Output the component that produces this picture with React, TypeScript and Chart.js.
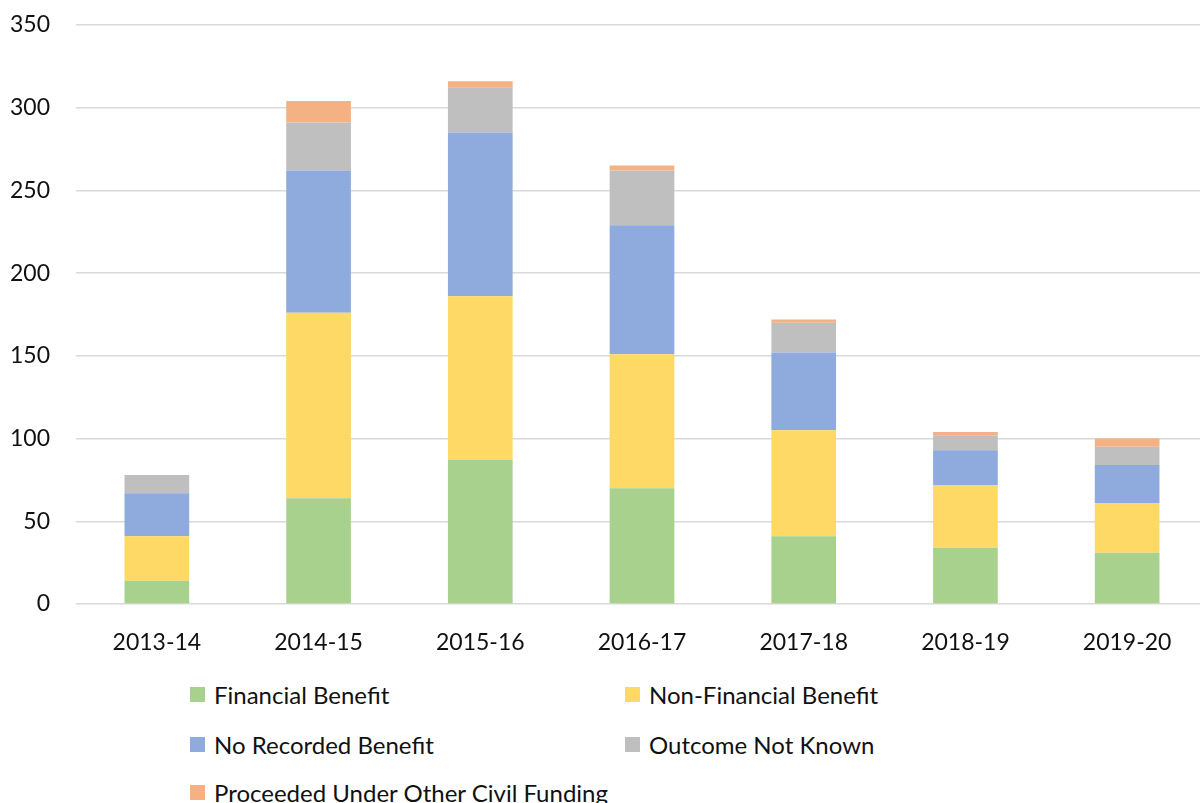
import React, { useEffect, useRef } from "react";
import { Chart, registerables } from "chart.js";

Chart.register(...registerables);

const categories = ["2013-14", "2014-15", "2015-16", "2016-17", "2017-18", "2018-19", "2019-20"];
const financialBenefit = [14, 64, 87, 70, 41, 34, 31];
const nonFinancialBenefit = [27, 112, 99, 81, 64, 38, 30];
const noRecordedBenefit = [26, 86, 99, 78, 47, 21, 23];
const outcomeNotKnown = [11, 29, 27, 33, 18, 9, 11];
const proceededOtherCivil = [0, 13, 4, 3, 2, 2, 5];

const seriesNames = [
  "Financial Benefit",
  "Non-Financial Benefit",
  "No Recorded Benefit",
  "Outcome Not Known",
  "Proceeded Under Other Civil Funding",
];
const seriesColors = ["#A9D18E", "#FFD966", "#8FAADC", "#BFBFBF", "#F4B183"];
const seriesData = [financialBenefit, nonFinancialBenefit, noRecordedBenefit, outcomeNotKnown, proceededOtherCivil];

const yTickMin = 0;
const yTickMax = 350;
const yTickStep = 50;

const FONT = "Lato, 'Open Sans', sans-serif";
const TEXT = "#111111";

const legendPos = [
  { left: 190, top: 694 },
  { left: 625, top: 694 },
  { left: 190, top: 744 },
  { left: 625, top: 744 },
  { left: 190, top: 792 },
];

export default function App() {
  const ref = useRef<HTMLCanvasElement | null>(null);

  useEffect(() => {
    document.body.style.margin = "0";
    document.body.style.overflow = "hidden";
    const canvas = ref.current;
    if (!canvas) return;
    const chart = new Chart(canvas, {
      type: "bar",
      data: {
        labels: categories,
        datasets: seriesNames.map((name, i) => ({
          label: name,
          data: seriesData[i],
          backgroundColor: seriesColors[i],
          borderWidth: 0,
          barPercentage: 1,
          categoryPercentage: 0.4,
        })),
      },
      options: {
        responsive: false,
        animation: false,
        devicePixelRatio: 1,
        layout: { padding: { top: 25, left: 0, right: 0, bottom: 0 } },
        plugins: { legend: { display: false }, tooltip: { enabled: false } },
        scales: {
          x: {
            stacked: true,
            grid: { display: false },
            border: { display: false },
            ticks: { color: TEXT, font: { family: FONT, size: 23 }, padding: 17, maxRotation: 0 },
            afterFit: (s: any) => {
              s.height = 56;
              s.paddingLeft = 0;
              s.paddingRight = 0;
            },
          },
          y: {
            stacked: true,
            min: yTickMin,
            max: yTickMax,
            ticks: { stepSize: yTickStep, color: TEXT, font: { family: FONT, size: 23 }, padding: 26 },
            grid: { color: "#D9D9D9", lineWidth: 1.5, drawTicks: false },
            border: { display: false },
            afterFit: (s: any) => {
              s.width = 76;
              s.paddingTop = 0;
              s.paddingBottom = 0;
            },
          },
        },
      },
    });
    return () => chart.destroy();
  }, []);

  return (
    <div style={{ position: "fixed", inset: 0, overflow: "hidden", background: "#fff" }}>
      <canvas ref={ref} width={1208} height={660} style={{ position: "absolute", left: 0, top: 0, width: 1208, height: 660 }} />
      {seriesNames.map((name, i) => (
        <div
          key={name}
          style={{
            position: "absolute",
            left: legendPos[i].left,
            top: legendPos[i].top - 15,
            height: 30,
            display: "flex",
            alignItems: "center",
            whiteSpace: "nowrap",
            fontFamily: FONT,
            fontSize: 24,
            color: TEXT,
          }}
        >
          <span style={{ display: "inline-block", width: 15, height: 15, background: seriesColors[i], marginRight: 9 }} />
          <span>{name}</span>
        </div>
      ))}
    </div>
  );
}
